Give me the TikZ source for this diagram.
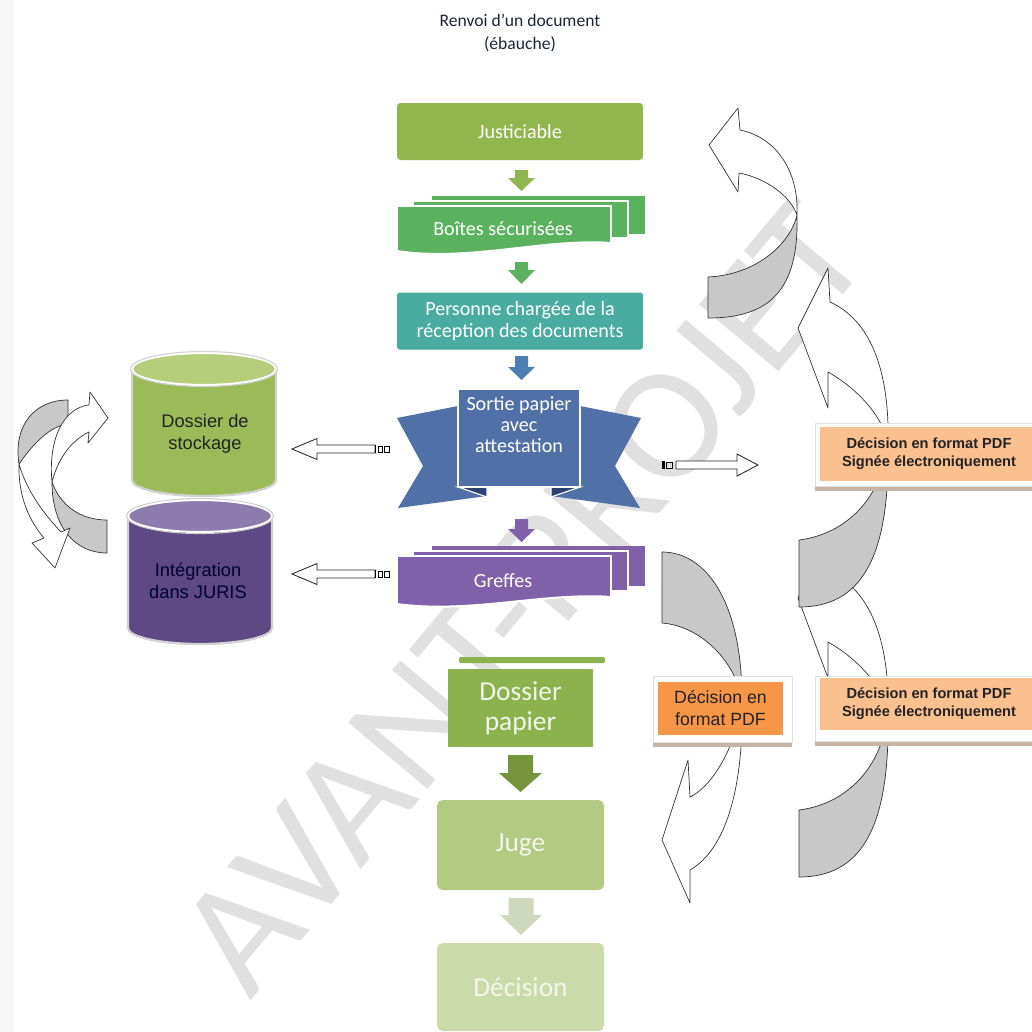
\documentclass[tikz,border=0pt]{standalone}
\usepackage{fontspec}
\setmainfont{Carlito}
\newfontfamily\arialfam{Liberation Sans}
\usetikzlibrary{calc}
\definecolor{cjust}{RGB}{146,182,78}
\definecolor{cboit}{RGB}{90,178,95}
\definecolor{cpers}{RGB}{74,172,160}
\definecolor{cbluearr}{RGB}{76,128,180}
\definecolor{cribbon}{RGB}{82,112,168}
\definecolor{cfold}{RGB}{45,66,112}
\definecolor{cgref}{RGB}{128,96,168}
\definecolor{cdoss}{RGB}{140,178,78}
\definecolor{carr5}{RGB}{118,148,60}
\definecolor{cjuge}{RGB}{178,202,130}
\definecolor{carr6}{RGB}{205,216,188}
\definecolor{cdeci}{RGB}{202,218,168}
\definecolor{cgrnb}{RGB}{155,187,89}
\definecolor{cgrnt}{RGB}{182,206,124}
\definecolor{cpurb}{RGB}{94,73,133}
\definecolor{cpurt}{RGB}{140,123,172}
\definecolor{cpeach}{RGB}{250,192,144}
\definecolor{corange}{RGB}{247,150,70}
\definecolor{cshadow}{RGB}{200,180,165}
\definecolor{cgray}{RGB}{200,200,200}
\definecolor{cwm}{RGB}{224,224,224}
\definecolor{ctitle}{RGB}{28,36,56}
\definecolor{ctxtdark}{RGB}{35,35,35}
\definecolor{clight}{RGB}{243,246,236}
\newcommand\fcen{\fontsize{14.3}{15.2}\selectfont}
\newcommand\fbigc{\fontsize{19.5}{21.5}\selectfont}
\newcommand\fari{\arialfam\fontsize{13}{15.6}\selectfont}
\newcommand\faribold{\arialfam\bfseries\fontsize{10.4}{12.8}\selectfont}
\newcommand\fariorg{\arialfam\fontsize{12.6}{15.6}\selectfont}
\newcommand\ftitle{\fontsize{12.5}{16.3}\selectfont}
% x, ytop, yhead, ytip, halfshaft, halfhead, colour
\newcommand\blockdn[7]{\fill[#7] (#1-#5,#2) -- (#1+#5,#2) -- (#1+#5,#3) -- (#1+#6,#3) -- (#1,#4) -- (#1-#6,#3) -- (#1-#5,#3) -- cycle;}
% hollow arrow pointing left, centre y
\newcommand\lhollow[1]{%
  \filldraw[harrow] (375,#1-4) -- (317,#1-4) -- (317,#1-10.5) -- (292,#1) -- (317,#1+10.5) -- (317,#1+4) -- (375,#1+4) -- cycle;
  \draw[line width=1.4pt] (375.5,#1-4) -- (375.5,#1+4);
  \draw[line width=0.6pt] (378,#1-3) rectangle (382.5,#1+3) (384.5,#1-3) rectangle (389,#1+3);}
\begin{document}
\begin{tikzpicture}[x=0.025cm,y=-0.025cm,
  pxbox/.style n args={3}{rectangle, fill=#3, minimum width=#1*0.025cm, minimum height=#2*0.025cm, inner sep=0pt},
  ctxt/.style={text=white, font=\fcen, align=center},
  carw/.style={draw=black!80, line width=0.5pt, line join=round},
  harrow/.style={draw=black!85, fill=white, line width=0.6pt, line join=miter},
  cylline/.style={draw=black!18, line width=1.6pt},
  docedge/.style={draw=white, line width=1.4pt},
  framebox/.style={fill=white, draw=black!12, line width=0.5pt}]
\useasboundingbox (0,0) rectangle (1032,1032);
\fill[white] (0,0) rectangle (1032,1032);
\fill[black!3] (0,0) rectangle (14,1032);
% watermark
\node[rotate=50, text=cwm, font=\fontsize{115}{115}\selectfont, inner sep=0pt] (wmark) at (522,597) {AVANT-PROJET};
% title
\node[font=\ftitle, text=ctitle, align=center] (title) at (520,33) {Renvoi d'un document\\(ébauche)};

% ---------- right curved arrows
\foreach \dy in {270,0}{
  \filldraw[carw, fill=white] (888,445+\dy) .. controls (890,370+\dy) and (870,320+\dy) .. (830,302+\dy) -- (828,268+\dy) -- (798,328+\dy) -- (828,408+\dy) -- (828,372+\dy) .. controls (860,390+\dy) and (885,420+\dy) .. (888,445+\dy) -- cycle;
  \filldraw[carw, fill=cgray] (888,445+\dy) .. controls (890,560+\dy) and (860,607+\dy) .. (799,607+\dy) -- (799,540+\dy) .. controls (840,535+\dy) and (880,505+\dy) .. (888,445+\dy) -- cycle;
}
% top right
\filldraw[carw, fill=white] (797,215) .. controls (799,170) and (775,137) .. (740,130) -- (738,108) -- (709,145) -- (738,192) -- (739,173) .. controls (765,178) and (790,195) .. (797,215) -- cycle;
\filldraw[carw, fill=cgray] (797,215) .. controls (799,290) and (770,318) .. (708,318) -- (708,277) .. controls (755,275) and (790,245) .. (797,215) -- cycle;
% middle (pointing down)
\filldraw[carw, fill=cgray] (742,700) .. controls (742,600) and (705,552) .. (662,552) -- (662,623) .. controls (700,626) and (735,660) .. (742,700) -- cycle;
\filldraw[carw, fill=white] (742,700) .. controls (744,790) and (725,850) .. (690,870) -- (690,903) -- (662,840) -- (688,760) -- (690,797) .. controls (715,785) and (738,740) .. (742,700) -- cycle;

% ---------- left curved arrows
\filldraw[carw, fill=cgray] (52,482) .. controls (52,527) and (75,553) .. (107,553) -- (107,520) .. controls (80,520) and (60,505) .. (52,482) -- cycle;
\filldraw[carw, fill=cgray] (68,400) -- (68,424) .. controls (50,426) and (33,444) .. (19,464) .. controls (13,425) and (35,400) .. (68,400) -- cycle;
\filldraw[carw, fill=white] (52,482) .. controls (48,440) and (63,408) .. (89,405) -- (90,392) -- (108,418) -- (88,443) -- (89,432) .. controls (72,440) and (58,458) .. (52,482) -- cycle;
\filldraw[carw, fill=white] (19,464) .. controls (18,497) and (30,522) .. (44,538) -- (32,543) -- (55,568) -- (70,528) -- (61,532) .. controls (45,515) and (27,492) .. (19,464) -- cycle;

% ---------- centre column
\node[pxbox={246}{57}{cjust}, rounded corners=2.5pt, ctxt] (just) at (520,131.5) {Justiciable};
\blockdn{521.5}{170}{178}{191}{6.5}{13.5}{cjust}
% Boites securisees
\fill[cboit] (432,196) rectangle (645,234);
\filldraw[fill=cboit, docedge] (413,201) rectangle (628,238);
\filldraw[fill=cboit, docedge] (397,206) -- (611,206) -- (611,243) .. controls (545,238) and (470,262) .. (397,251) -- cycle;
\node[ctxt] (boit) at (503,229) {Boîtes sécurisées};
\blockdn{521.5}{262}{270}{284}{6.5}{13.5}{cboit}
\node[pxbox={246}{57}{cpers}, rounded corners=2pt, ctxt] (pers) at (520,321) {Personne chargée de la\\réception des documents};
\blockdn{521.5}{356}{367}{380}{6.5}{13.5}{cbluearr}
% ribbon
\fill[cribbon] (397,418) -- (458,406) -- (487,406) -- (487,496) -- (398,508) -- (423,466) -- cycle;
\fill[cribbon] (641,418) -- (580,406) -- (551,406) -- (551,496) -- (640,508) -- (615,466) -- cycle;
\filldraw[fill=cfold, draw=white, line width=0.8pt] (458,487) -- (487,487) -- (487,497) -- cycle;
\filldraw[fill=cfold, draw=white, line width=0.8pt] (580,487) -- (551,487) -- (551,497) -- cycle;
\filldraw[fill=cribbon, draw=white, line width=1.4pt] (458,389) rectangle (580,487);
\node[ctxt] (sortie) at (519,424.5) {Sortie papier\\avec\\attestation};
\blockdn{521.5}{519}{529}{542}{6.5}{13.5}{cgref}
% Greffes
\fill[cgref] (432,546) rectangle (645,586);
\filldraw[fill=cgref, docedge] (413,551) rectangle (628,591);
\filldraw[fill=cgref, docedge] (397,556) -- (611,556) -- (611,597) .. controls (545,592) and (470,614) .. (397,604) -- cycle;
\node[ctxt] (gref) at (503,581) {Greffes};
% Dossier papier
\fill[cdoss, rounded corners=1pt] (459,657) rectangle (605,663);
\node[pxbox={145}{78}{cdoss}, text=clight, font=\fbigc, align=center] (doss) at (520.5,708) {Dossier\\papier};
\blockdn{520.5}{755}{773}{792}{12.5}{21.5}{carr5}
\node[pxbox={167}{90}{cjuge}, rounded corners=4pt, text=clight, font=\fbigc] (juge) at (520.5,845) {Juge};
\blockdn{521}{898}{915}{935}{12.5}{21}{carr6}
\node[pxbox={167}{88}{cdeci}, rounded corners=4pt, text=clight, font=\fbigc] (deci) at (520.5,987) {Décision};

% ---------- cylinders
\fill[cgrnb] (132,369) rectangle (276,480);
\fill[cgrnb] (204,480) ellipse [x radius=72, y radius=16];
\draw[cylline] (132,369) -- (132,480) arc [start angle=180, end angle=0, x radius=72, y radius=16] -- (276,369);
\filldraw[fill=cgrnt, draw=white, line width=1.5pt] (204,369) ellipse [x radius=72, y radius=16];
\draw[draw=black!18, line width=0.8pt] (204,369) ellipse [x radius=73.5, y radius=17.5];
\node[font=\fari, text=ctxtdark, align=center] (stock) at (205,434) {Dossier de\\stockage};

\fill[cpurb] (128,516) rectangle (272,628);
\fill[cpurb] (200,628) ellipse [x radius=72, y radius=16];
\draw[cylline] (128,516) -- (128,628) arc [start angle=180, end angle=0, x radius=72, y radius=16] -- (272,516);
\filldraw[fill=cpurt, draw=white, line width=1.5pt] (200,516) ellipse [x radius=72, y radius=16];
\draw[draw=black!18, line width=0.8pt] (200,516) ellipse [x radius=73.5, y radius=17.5];
\node[font=\fari, text=black!80!blue, align=center] (juris) at (198,581) {Intégration\\dans JURIS};

% ---------- hollow arrows
\lhollow{449}
\lhollow{574}
\filldraw[harrow] (676,461) -- (737,461) -- (737,454) -- (758,465) -- (737,476) -- (737,469) -- (676,469) -- cycle;
\fill[black] (662,461) rectangle (664.5,469);
\draw[line width=0.6pt] (666.5,462) rectangle (672.5,468);

% ---------- decision boxes
\fill[cshadow] (815,486) rectangle (1032,490.5);
\filldraw[framebox] (815,423) rectangle (1034,486);
\node[pxbox={218}{54}{cpeach}, font=\faribold, text=ctxtdark, align=center] (pdfa) at (929,454) {Décision en format PDF\\Signée électroniquement};

\fill[cshadow] (815,741) rectangle (1032,745.5);
\filldraw[framebox] (815,676) rectangle (1034,741);
\node[pxbox={218}{52}{cpeach}, font=\faribold, text=ctxtdark, align=center] (pdfb) at (929,704) {Décision en format PDF\\Signée électroniquement};

\fill[cshadow] (653,742) rectangle (792,746.5);
\filldraw[framebox] (653,676) rectangle (792,742);
\node[pxbox={125}{53}{corange}, font=\fariorg, text=ctxtdark, align=center] (pdfc) at (720.5,708.5) {Décision en\\format PDF};
\end{tikzpicture}
\end{document}
